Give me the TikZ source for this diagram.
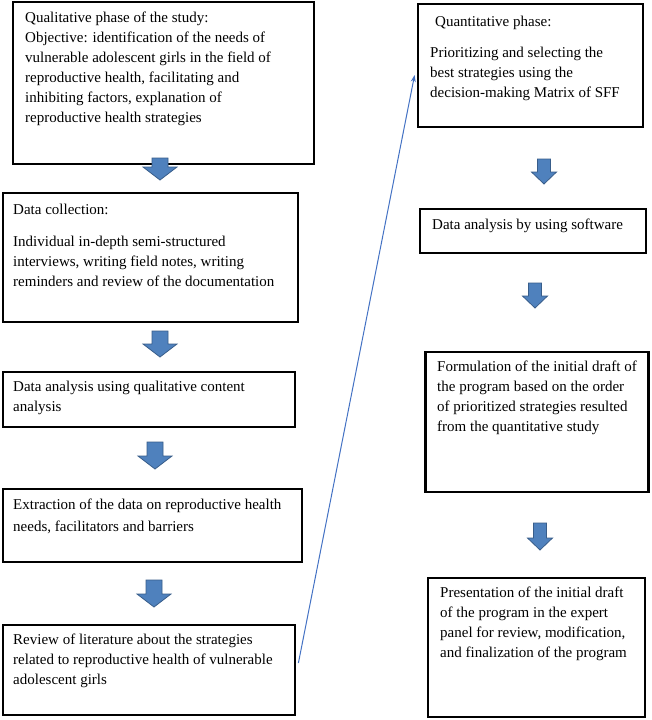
\documentclass[tikz,border=0pt]{standalone}
\usepackage{fontspec}
\setmainfont{Liberation Serif}
\usetikzlibrary{arrows.meta}
\definecolor{arrfill}{RGB}{79,129,189}
\definecolor{arrline}{RGB}{56,93,138}
\definecolor{thinblue}{RGB}{68,114,196}
\tikzset{
  box/.style={draw=black, line width=2.8pt, fill=white, rectangle, inner sep=0pt},
  txt/.style={anchor=north west, inner sep=0pt, align=left, font=\fontsize{15}{20}\selectfont},
  blockarr/.style={fill=arrfill, draw=arrline, line width=0.8pt, line join=miter},
}
% big block arrow: #1 = centre x, #2 = top y, #3 = bottom y
\newcommand{\bigarr}[3]{%
  \path[blockarr] (#1-8,#2) -- (#1+8,#2) -- (#1+8,#3-13) -- (#1+17,#3-13) -- (#1,#3) -- (#1-17,#3-13) -- (#1-8,#3-13) -- cycle;}
\newcommand{\smallarr}[3]{%
  \path[blockarr] (#1-6.5,#2) -- (#1+6.5,#2) -- (#1+6.5,#3-12) -- (#1+12.5,#3-12) -- (#1,#3) -- (#1-12.5,#3-12) -- (#1-6.5,#3-12) -- cycle;}
\begin{document}
\begin{tikzpicture}[x=1pt,y=-1pt]
\useasboundingbox (0,0) rectangle (651,720);
\fill[white] (0,0) rectangle (651,720);

% left column boxes
\node[box, minimum width=301pt, minimum height=162pt] (b1) at (163.5,83) {};
\node[txt] (t1) at (25,8) {\strut Qualitative phase of the study:\\
Objective: identification of the needs of\\
vulnerable adolescent girls in the field of\\
reproductive health, facilitating and\\
inhibiting factors, explanation of\\
reproductive health strategies};

\node[box, minimum width=295pt, minimum height=129pt] (b2) at (150.5,257.5) {};
\node[txt] (t2) at (13,200) {\strut Data collection:\\[12pt]
Individual in-depth semi-structured\\
interviews, writing field notes, writing\\
reminders and review of the documentation};

\node[box, minimum width=292pt, minimum height=55pt] (b3) at (149,399.5) {};
\node[txt] (t3) at (13,377) {\strut Data analysis using qualitative content\\
analysis};

\node[box, minimum width=299pt, minimum height=73pt] (b4) at (152.5,525.5) {};
\node[txt] (t4) at (13,495) {\strut Extraction of the data on reproductive health\\[2pt]
needs, facilitators and barriers};

\node[box, minimum width=292pt, minimum height=90pt] (b5) at (149,670) {};
\node[txt] (t5) at (13,630) {\strut Review of literature about the strategies\\
related to reproductive health of vulnerable\\
adolescent girls};

% right column boxes
\node[box, minimum width=225pt, minimum height=123pt] (r1) at (530.5,65.5) {};
\node[txt] (s1) at (430,12) {\strut\hspace*{5pt}Quantitative phase:\\[11pt]
Prioritizing and selecting the\\
best strategies using the\\
decision-making Matrix of SFF};

\node[box, minimum width=226pt, minimum height=44pt] (r2) at (533,231) {};
\node[txt] (s2) at (432,215) {\strut Data analysis by using software};

\node[box, minimum width=223pt, minimum height=140pt] (r3) at (537,422) {};
\node[txt] (s3) at (437,357) {\strut Formulation of the initial draft of\\
the program based on the order\\
of prioritized strategies resulted\\
from the quantitative study};

\node[box, minimum width=217pt, minimum height=139pt] (r4) at (536.5,647.5) {};
\node[txt] (s4) at (440,583) {\strut Presentation of the initial draft\\
of the program in the expert\\
panel for review, modification,\\
and finalization of the program};

% block arrows
\bigarr{160}{158}{180}
\bigarr{160}{331}{357}
\bigarr{155}{442}{469}
\bigarr{154}{580}{607}
\smallarr{544}{159}{184}
\smallarr{535}{283}{308}
\smallarr{540}{523}{550}

% thin connector
\draw[thinblue, line width=1pt, -{Stealth[length=7pt,width=5pt]}]
  ([xshift=2pt,yshift=7pt]b5.east) -- ([xshift=-2pt,yshift=-9.5pt]r1.west);
\end{tikzpicture}
\end{document}
